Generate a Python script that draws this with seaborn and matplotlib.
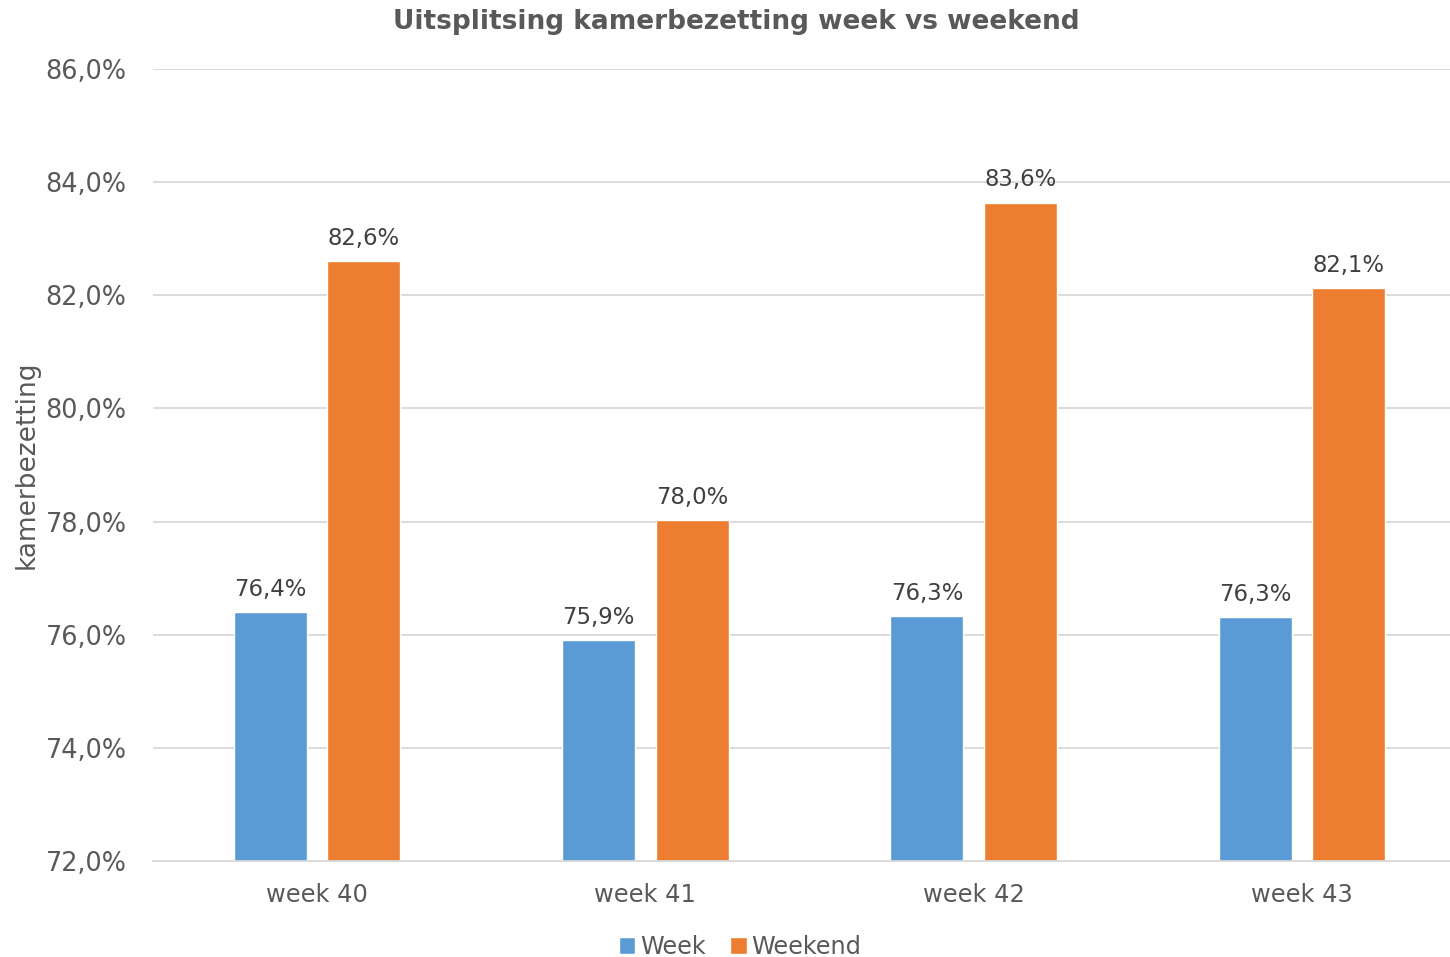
import matplotlib
matplotlib.use("Agg")
import matplotlib.pyplot as plt
import seaborn as sns
import pandas as pd
from matplotlib.ticker import FuncFormatter
from matplotlib.patches import Patch

categories = ["week 40", "week 41", "week 42", "week 43"]
week = [76.4, 75.9, 76.33, 76.31]
weekend = [82.6, 78.03, 83.64, 82.13]
series = ["Week", "Weekend"]
colors = ["#5B9BD5", "#ED7D31"]

df = pd.DataFrame({
    "cat": categories * 2,
    "val": week + weekend,
    "serie": [series[0]] * 4 + [series[1]] * 4,
})

sns.set_theme(style="white")
plt.rcParams['font.family'] = ['DejaVu Sans']
txt = "#595959"

fig = plt.figure(figsize=(14.5, 9.57), dpi=100)
W, H = 1450, 957
left, right = 153, 1466
top, bottom = 69, 861
ax = fig.add_axes([left / W, 1 - bottom / H, (right - left) / W, (bottom - top) / H])

sns.barplot(data=df, x="cat", y="val", hue="serie", palette=colors,
            width=0.57, gap=0.22, ax=ax, legend=False, saturation=1)

ax.set_ylim(72, 86)
ax.set_xlim(-0.5, 3.5)
ax.set_yticks([72, 74, 76, 78, 80, 82, 84, 86])
ax.yaxis.set_major_formatter(FuncFormatter(lambda v, p: f"{v:.1f}%".replace(".", ",")))
ax.grid(axis="y", color="#D9D9D9", linewidth=1.3)
ax.set_axisbelow(True)
for s in ["top", "right", "left"]:
    ax.spines[s].set_visible(False)
ax.spines["bottom"].set_color("#D9D9D9")
ax.spines["bottom"].set_linewidth(1.3)
ax.tick_params(axis="y", labelsize=18.4, colors=txt, length=0, pad=19)
ax.tick_params(axis="x", labelsize=17.4, colors=txt, length=0, pad=16)
ax.set_xlabel("")
ax.set_ylabel("kamerbezetting", fontsize=19, color=txt)
ax.yaxis.set_label_coords(-0.086, 0.5)

for cont in ax.containers:
    labels = [f"{b.get_height():.1f}%".replace(".", ",") for b in cont]
    ax.bar_label(cont, labels=labels, fontsize=16.4, color="#404040", padding=8)

fig.suptitle("Uitsplitsing kamerbezetting week vs weekend", x=736 / W, y=1 - 9 / H,
             fontsize=19, fontweight="bold", color=txt, va="top")

handles = [Patch(facecolor=c, label=l) for c, l in zip(colors, series)]
fig.legend(handles=handles, loc="center", bbox_to_anchor=(740 / W, 1 - 947 / H), ncol=2,
           frameon=False, fontsize=17.3, labelcolor=txt, handlelength=0.7, handleheight=0.7,
           handletextpad=0.2, columnspacing=1.0)

fig.savefig("out.png", dpi=100)
